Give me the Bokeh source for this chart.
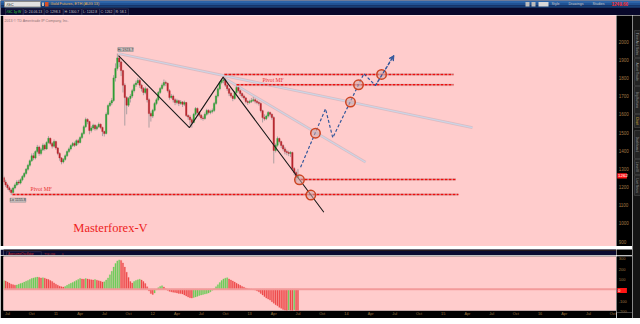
import math
from bokeh.plotting import figure
from bokeh.layouts import column, row
from bokeh.models import Range1d, FixedTicker, Label, Span, Arrow, VeeHead, ColumnDataSource
from bokeh.core.properties import value
from bokeh.embed import file_html
from bokeh.resources import INLINE

SANS = "Liberation Sans"
SERIF = "Liberation Serif"
PINK = "#ffcccc"
AXIS_TXT = "#a07a44"

# ---------------- data (weekly /GC candles, week 0 = start of Jul 2010) ----------------
weeks = list(range(-2, 157))
opens = [1252, 1228, 1212, 1196, 1184, 1170, 1195, 1212, 1228, 1222,
         1240, 1258, 1275, 1298, 1320, 1345, 1372, 1360, 1395, 1420,
         1385, 1405, 1430, 1410, 1445, 1468, 1440, 1425, 1450, 1415,
         1385, 1360, 1338, 1352, 1372, 1395, 1410, 1428, 1440, 1430,
         1455, 1445, 1472, 1494, 1532, 1572, 1560, 1511, 1525, 1540,
         1520, 1532, 1545, 1528, 1505, 1494, 1600, 1648, 1662, 1676,
         1800, 1852, 1910, 1888, 1840, 1760, 1692, 1650, 1687, 1700,
         1730, 1762, 1772, 1786, 1760, 1742, 1720, 1740, 1680, 1604,
         1590, 1622, 1659, 1680, 1720, 1742, 1760, 1775, 1770, 1730,
         1692, 1700, 1680, 1665, 1675, 1660, 1668, 1655, 1665, 1593,
         1585, 1570, 1555, 1600, 1632, 1610, 1595, 1580, 1577, 1600,
         1621, 1610, 1615, 1621, 1660, 1700, 1740, 1775, 1786, 1790,
         1760, 1740, 1715, 1700, 1687, 1720, 1747, 1730, 1714, 1700,
         1690, 1670, 1665, 1670, 1676, 1680, 1672, 1665, 1660, 1620,
         1582, 1575, 1590, 1610, 1600, 1582, 1401, 1430, 1467, 1450,
         1429, 1410, 1395, 1390, 1385, 1390, 1302, 1280, 1253]
highs = [1262, 1240, 1220, 1205, 1192, 1202, 1220, 1238, 1240, 1248,
         1266, 1282, 1305, 1328, 1352, 1385, 1388, 1402, 1432, 1428,
         1415, 1440, 1438, 1452, 1480, 1472, 1448, 1462, 1455, 1420,
         1392, 1365, 1360, 1380, 1402, 1418, 1435, 1448, 1450, 1462,
         1465, 1480, 1502, 1540, 1582, 1578, 1565, 1535, 1548, 1545,
         1540, 1555, 1550, 1532, 1510, 1610, 1655, 1672, 1690, 1815,
         1880, 1934, 1920, 1895, 1845, 1770, 1700, 1695, 1712, 1740,
         1770, 1785, 1800, 1795, 1768, 1750, 1752, 1745, 1688, 1615,
         1630, 1668, 1690, 1728, 1750, 1770, 1791, 1785, 1775, 1738,
         1712, 1708, 1688, 1685, 1680, 1678, 1672, 1675, 1668, 1600,
         1595, 1578, 1608, 1640, 1638, 1618, 1602, 1590, 1610, 1630,
         1628, 1625, 1632, 1668, 1708, 1748, 1782, 1795, 1808, 1798,
         1768, 1745, 1722, 1705, 1728, 1755, 1752, 1735, 1720, 1708,
         1695, 1678, 1680, 1690, 1695, 1688, 1678, 1672, 1665, 1625,
         1600, 1598, 1618, 1615, 1605, 1590, 1440, 1478, 1472, 1455,
         1435, 1420, 1405, 1400, 1398, 1395, 1310, 1290, 1300]
lows = [1220, 1200, 1185, 1172, 1156, 1162, 1188, 1205, 1212, 1215,
        1232, 1250, 1268, 1290, 1312, 1338, 1348, 1352, 1385, 1372,
        1375, 1398, 1400, 1405, 1438, 1430, 1412, 1418, 1405, 1375,
        1345, 1325, 1330, 1345, 1365, 1388, 1402, 1420, 1420, 1425,
        1435, 1440, 1465, 1488, 1525, 1545, 1490, 1500, 1515, 1510,
        1512, 1525, 1518, 1480, 1478, 1490, 1595, 1640, 1650, 1668,
        1780, 1840, 1860, 1810, 1720, 1538, 1600, 1640, 1665, 1690,
        1720, 1750, 1762, 1745, 1725, 1705, 1710, 1665, 1527, 1560,
        1580, 1615, 1650, 1672, 1712, 1735, 1752, 1755, 1720, 1680,
        1685, 1665, 1650, 1655, 1645, 1652, 1640, 1645, 1585, 1570,
        1540, 1527, 1550, 1592, 1600, 1585, 1570, 1565, 1570, 1592,
        1600, 1600, 1605, 1612, 1652, 1692, 1732, 1765, 1770, 1750,
        1728, 1700, 1690, 1672, 1680, 1712, 1720, 1700, 1690, 1680,
        1660, 1652, 1658, 1662, 1668, 1660, 1655, 1648, 1610, 1555,
        1565, 1568, 1582, 1588, 1570, 1330, 1390, 1422, 1440, 1415,
        1400, 1380, 1375, 1370, 1365, 1290, 1265, 1230, 1242]
closes = [1228, 1212, 1196, 1184, 1170, 1195, 1212, 1228, 1222, 1240,
          1258, 1275, 1298, 1320, 1345, 1372, 1360, 1395, 1420, 1385,
          1405, 1430, 1410, 1445, 1468, 1440, 1425, 1450, 1415, 1385,
          1360, 1338, 1352, 1372, 1395, 1410, 1428, 1440, 1430, 1455,
          1445, 1472, 1494, 1532, 1572, 1560, 1511, 1525, 1540, 1520,
          1532, 1545, 1528, 1505, 1494, 1600, 1648, 1662, 1676, 1800,
          1852, 1910, 1888, 1840, 1760, 1692, 1650, 1687, 1700, 1730,
          1762, 1772, 1786, 1760, 1742, 1720, 1740, 1680, 1604, 1590,
          1622, 1659, 1680, 1720, 1742, 1760, 1775, 1770, 1730, 1692,
          1700, 1680, 1665, 1675, 1660, 1668, 1655, 1665, 1593, 1585,
          1570, 1555, 1600, 1632, 1610, 1595, 1580, 1577, 1600, 1621,
          1610, 1615, 1621, 1660, 1700, 1740, 1775, 1786, 1790, 1760,
          1740, 1715, 1700, 1687, 1720, 1747, 1730, 1714, 1700, 1690,
          1670, 1665, 1670, 1676, 1680, 1672, 1665, 1660, 1620, 1582,
          1575, 1590, 1610, 1600, 1582, 1401, 1430, 1467, 1450, 1429,
          1410, 1395, 1390, 1385, 1390, 1302, 1280, 1253, 1262]
# Awesome Oscillator histogram values
ao = [85, 80, 70, 60, 50, 45, 40, 42, 48, 55,
      62, 70, 78, 85, 95, 105, 110, 115, 118, 115,
      110, 112, 108, 100, 95, 85, 75, 62, 50, 40,
      30, 25, 22, 28, 38, 48, 58, 66, 75, 85,
      95, 105, 100, 98, 104, 100, 96, 92, 90, 95,
      88, 82, 78, 70, 72, 90, 110, 140, 175, 215,
      250, 275, 285, 280, 255, 215, 165, 115, 75, 60,
      75, 85, 92, 98, 90, 75, 55, 25, -15, -40,
      -50, -35, -5, 15, 28, 35, 22, 5, -10, -20,
      -25, -28, -30, -35, -40, -42, -45, -55, -65, -75,
      -82, -85, -80, -75, -68, -60, -55, -50, -46, -42,
      -35, -25, -10, 5, 25, 45, 65, 85, 100, 108,
      112, 100, 90, 80, 70, 58, 48, 38, 28, 20,
      12, 6, 3, 0, -3, -8, -15, -25, -40, -55,
      -70, -85, -95, -105, -120, -135, -150, -160, -175, -185,
      -195, -202, -208, -200, -205, -210, -198, -212, -216]

price_ticks = [900, 1000, 1100, 1200, 1300, 1400, 1500, 1600, 1700, 1800, 1900, 2000]
osc_ticks = [-200, -100, 0, 100, 200, 300]
date_ticks = [0, 13, 26, 39, 52, 65, 78, 91, 104, 117, 130, 143, 156,
              169, 182, 195, 208, 221, 234, 247, 260, 273, 286, 299, 312, 325]
date_labels = ["Jul", "Oct", "11", "Apr", "Jul", "Oct", "12", "Apr", "Jul", "Oct", "13", "Apr", "Jul",
               "Oct", "14", "Apr", "Jul", "Oct", "15", "Apr", "Jul", "Oct", "16", "Apr", "Jul", "Oct"]

# drawings (week, price)
zigzag_x = [59.6, 97.7, 115.8, 169.9]
zigzag_y = [1923, 1527, 1804, 1062]
trend1_x = [59.6, 249.7]
trend1_y = [1934, 1527]
trend2_x = [115.8, 192.3]
trend2_y = [1802, 1337]
pivot_levels = [1819, 1762, 1242, 1159]
pivot_start = [116.5, 123.0, 157.4, 2.7]
pivot_end = [239.5, 239.5, 240.6, 242.2]
proj_x = [157.4, 170.8, 174.7, 191.4, 197.6, 207.5]
proj_y = [1309, 1630, 1471, 1823, 1758, 1923]
circle_x = [156.8, 162.9, 165.4, 184.2, 188.5, 200.9]
circle_y = [1240, 1156, 1496, 1667, 1762, 1819]

last_price = 1262
last_ao_tag = 0
hi_value = 1923.7
lo_value = 1155.8

# ---------------- helpers ----------------
def nogrid(f):
    for g in f.grid:
        g.visible = False

def pixfig(w, h, bg):
    f = figure(width=w, height=h, x_range=Range1d(0, w), y_range=Range1d(h, 0),
               output_backend="svg", toolbar_location=None,
               x_axis_location=None, y_axis_location=None, min_border=0,
               background_fill_color=bg, border_fill_color=bg, outline_line_color=None)
    nogrid(f)
    return f

def txt(f, xs, ys, texts, colors, size="4px", align="left", font=SANS, angle=0, style="normal"):
    f.text(x=xs, y=ys, text=texts, text_color=colors, text_font=value(font),
           text_font_size=size, text_align=align, text_baseline="middle", angle=angle,
           text_font_style=style)

def scale_strip(yrange, h, top, bottom, ticks, tag_value, size):
    """Right-hand price scale strip: tick labels and the red last-value tag."""
    f = figure(width=16, height=h, x_range=Range1d(0, 16), y_range=yrange,
               output_backend="svg", toolbar_location=None,
               x_axis_location=None, y_axis_location=None,
               min_border_left=0, min_border_right=0, min_border_top=top, min_border_bottom=bottom,
               background_fill_color="#000000", border_fill_color="#000000", outline_line_color=None)
    nogrid(f)
    f.text(x=[2.2] * len(ticks), y=ticks, text=[str(t) for t in ticks], text_color=AXIS_TXT,
           text_font=value(SANS), text_font_size=size, text_align="left", text_baseline="middle")
    f.rect(x=[5.6], y=[tag_value], width=[9.6], height=[5.2], width_units="data",
           height_units="screen", fill_color="#ff1414", line_color=None)
    f.text(x=[1.6], y=[tag_value], text=[str(tag_value)], text_color="#ffffff",
           text_font=value(SANS), text_font_size="4.4px", text_align="left",
           text_baseline="middle")
    return f

# ---------------- header ----------------
hdr = pixfig(640, 15, "#08082a")
hdr.quad(left=[0, 0, 0], right=[640, 640, 640], top=[0, 2.5, 5], bottom=[2.5, 5, 7.3],
         fill_color=["#2c64a8", "#205294", "#183f76"], line_color=None)
hdr.quad(left=[4], right=[40], top=[1], bottom=[6.5], fill_color="#e2e2e2", line_color="#8a8a8a")
txt(hdr, [6], [3.8], ["/GC"], ["#101010"])
hdr.quad(left=[41.5, 44.5], right=[43.5, 48], top=[2, 1.5], bottom=[5.5, 6],
         fill_color=["#b8b8b8", "#d85028"], line_color=None)
txt(hdr, [50], [3.9], ["Gold Futures, ETH (AUG 13)"], ["#e6b04a"], size="3.8px")
hdr.quad(left=[525, 531, 538], right=[529, 535, 548], top=[1.5, 1.5, 1.5], bottom=[6, 6, 6],
         fill_color=["#bcbcbc", "#bcbcbc", "#d8d8d8"], line_color=None)
txt(hdr, [551, 568, 592], [3.9, 3.9, 3.9], ["Style", "Drawings", "Studies"],
    ["#c8c8c8", "#c8c8c8", "#c8c8c8"], size="3.6px")
txt(hdr, [611], [3.9], ["1249.60"], ["#ff2a2a"], size="4.6px", style="bold")
info_left = [5, 23, 44, 63, 81.5, 99, 114]
info_right = [22.5, 43.5, 62.5, 81, 99, 113.5, 128]
info_text = ["/GC 1y:W", "D: 24.06.13", "O: 1298.3", "H: 1300.7", "L: 1242.8", "C: 1262", "R: 58.1"]
hdr.quad(left=info_left, right=info_right, top=[8.3] * 7, bottom=[14.6] * 7,
         fill_color="#0b0b33", line_color="#3c3c5c", line_width=0.6)
txt(hdr, [x + 1 for x in info_left], [11.5] * 7, info_text,
    ["#3cdc3c"] + ["#c4c4c4"] * 6, size="3.4px")

# ---------------- main price pane ----------------
XR = (-2.148, 327.07)
p = figure(width=616, height=231, x_range=Range1d(*XR), y_range=Range1d(873.6, 2142.9),
           output_backend="svg", toolbar_location=None, x_axis_location=None,
           y_axis_location=None, min_border_left=3, min_border_right=0,
           min_border_top=0, min_border_bottom=0,
           background_fill_color=PINK, border_fill_color="#000000", outline_line_color=None)
nogrid(p)

# trendlines (pale grey-blue with pink shadow)
for tx, ty in ((trend1_x, trend1_y), (trend2_x, trend2_y)):
    p.line(tx, ty, line_color="#d2b6be", line_width=2.8, line_alpha=0.8)
    p.line(tx, ty, line_color="#ccd5e6", line_width=1.2)

up = [c >= o for o, c in zip(opens, closes)]
src = ColumnDataSource(dict(
    x=weeks, high=highs, low=lows,
    top=[max(o, c) for o, c in zip(opens, closes)],
    bottom=[min(o, c) for o, c in zip(opens, closes)],
    color=["#2f9e36" if u else "#b8242c" for u in up]))
p.segment(x0="x", y0="low", x1="x", y1="high", source=src, line_color="#ad9fa1", line_width=1)
p.vbar(x="x", top="top", bottom="bottom", width=0.75, source=src,
       fill_color="color", line_color="color", line_width=0.4)

# pivot lines: grey dotted band with red dashes
p.segment(x0=pivot_start, y0=pivot_levels, x1=pivot_end, y1=pivot_levels,
          line_color="#cbbaba", line_width=2.8, line_dash="1 1")
p.segment(x0=pivot_start, y0=pivot_levels, x1=pivot_end, y1=pivot_levels,
          line_color="#ec0e0e", line_width=1.6, line_dash="3 1")

# black zigzag
p.line(zigzag_x, zigzag_y, line_color="#1a1a1a", line_width=1.1)

# projected path
BLUE = "#34589c"
p.line(proj_x, proj_y, line_color=BLUE, line_width=1.2, line_dash="3 2")
p.add_layout(Arrow(end=VeeHead(size=5, line_color=BLUE, fill_color=BLUE, line_width=1),
                   x_start=proj_x[-2], y_start=proj_y[-2], x_end=proj_x[-1], y_end=proj_y[-1],
                   line_color=BLUE, line_width=1.2, line_dash="3 2"))

# circles
p.scatter(circle_x, circle_y, size=9.5, marker="circle", fill_color="#cfa8a8", fill_alpha=0.55,
          line_color="#cc4422", line_width=1.5)

# labels
p.add_layout(Label(x=-1.6, y=2115, text="2013 \u00a9 TD Ameritrade IP Company, Inc.",
                   text_font=SANS, text_font_size="3.6px", text_color="#8c7474",
                   text_baseline="middle"))
p.add_layout(Label(x=63.4, y=1956, text="Hi %.1f" % hi_value, text_font=SANS,
                   text_font_size="3.6px", text_color="#303030", text_align="center",
                   text_baseline="middle", background_fill_color="#cdc2c2",
                   border_line_color="#8e8e8e", border_line_width=0.6))
p.add_layout(Label(x=5.6, y=1128, text="Lo %.1f" % lo_value, text_font=SANS,
                   text_font_size="3.6px", text_color="#303030", text_align="center",
                   text_baseline="middle", background_fill_color="#cdc2c2",
                   border_line_color="#8e8e8e", border_line_width=0.6))
for lx, ly in ((136.9, 1772), (12.4, 1172)):
    p.add_layout(Label(x=lx, y=ly, text="Pivot MF", text_font=SERIF, text_font_size="5.6px",
                       text_color="#e83030", text_baseline="bottom"))
p.add_layout(Label(x=55.3, y=978, text="Masterforex-V", text_font=SERIF,
                   text_font_size="12.5px", text_color="#ee2222", text_align="center",
                   text_baseline="middle"))

pax = scale_strip(p.y_range, 231, 0, 0, price_ticks, last_price, "4.5px")

# ---------------- separator bar ----------------
sep = pixfig(616, 9, "#0b0b30")
sep.quad(left=[0], right=[616], top=[0], bottom=[1.6], fill_color="#24181a", line_color=None)
sep.quad(left=[3, 38.5, 57], right=[38, 56.5, 62.5], top=[2.2], bottom=[7.6],
         fill_color="#0b0b33", line_color="#3c3c5c", line_width=0.6)
txt(sep, [4.5, 40, 58.5], [4.5, 4.5, 4.5], ["AwesomeOscillator", "-216.036", "0"],
    ["#d83232", "#d83232", "#d83232"], size="3px")
sep2 = pixfig(16, 9, "#000000")

# ---------------- oscillator pane ----------------
q = figure(width=616, height=63, x_range=Range1d(*XR), y_range=Range1d(-205.6, 317.8),
           output_backend="svg", toolbar_location=None, x_axis_location="below",
           y_axis_location=None, min_border_left=3, min_border_right=0,
           min_border_top=1, min_border_bottom=6,
           background_fill_color=PINK, border_fill_color="#000000", outline_line_color=None)
nogrid(q)
q.add_layout(Span(location=0, dimension="width", line_color="#f29a9a", line_width=2))
ao_colors = ["#6ccc5a" if i == 0 or ao[i] >= ao[i - 1] else "#ee4a4a" for i in range(len(ao))]
q.vbar(x=weeks, top=ao, bottom=0, width=0.62, fill_color=ao_colors, line_color=ao_colors,
       line_width=0.3)
xa = q.xaxis[0]
xa.ticker = FixedTicker(ticks=date_ticks)
xa.major_label_overrides = {t: l for t, l in zip(date_ticks, date_labels)}
xa.axis_line_color = None
xa.major_tick_line_color = None
xa.minor_tick_line_color = None
xa.major_tick_out = 0
xa.major_label_standoff = 1
xa.major_label_text_font_size = "3.8px"
xa.major_label_text_color = AXIS_TXT
xa.major_label_text_font = SANS

qax = scale_strip(q.y_range, 63, 1, 6, osc_ticks, last_ao_tag, "4px")

# ---------------- side tabs ----------------
tab_names = ["Time And Sales", "Active Trader", "Big Buttons", "Chart", "Dashboard", "Level II", "Live News"]
tab_top = [15, 43, 71, 99, 115, 144, 160]
tab_bottom = [42, 70, 98, 112, 143, 159, 180]
tabs = pixfig(8, 303, "#141414")
tabs.quad(left=[2] * 7, right=[8] * 7, top=tab_top, bottom=tab_bottom,
          fill_color="#242424", line_color="#4c4c4c", line_width=0.6)
txt(tabs, [5] * 7, [(a + b) / 2 for a, b in zip(tab_top, tab_bottom)], tab_names,
    ["#9c9c9c", "#9c9c9c", "#9c9c9c", "#e0c040", "#9c9c9c", "#9c9c9c", "#9c9c9c"],
    size="3.2px", align="center", angle=-math.pi / 2)

# ---------------- bottom bar ----------------
bot = pixfig(640, 6, "#1a1a1a")
bot.quad(left=[33], right=[457], top=[0.6], bottom=[5.6], fill_color="#1f3d60", line_color=None)
bot.scatter([5, 11, 17, 23], [3, 3, 3, 3], size=4.5, marker="circle",
            fill_color="#8c9cae", line_color="#c8d0da", line_width=0.5)
bot.quad(left=[27, 615, 624, 631], right=[31, 619, 629, 638], top=[1.2] * 4, bottom=[4.8] * 4,
         fill_color=["#8c9cae", "#6a6a6a", "#d0d0d0", "#d0d0d0"], line_color=None)

layout = column(hdr, row(column(p, sep, q), column(pax, sep2, qax), tabs), bot)
open("out.html", "w").write(file_html(layout, INLINE))
